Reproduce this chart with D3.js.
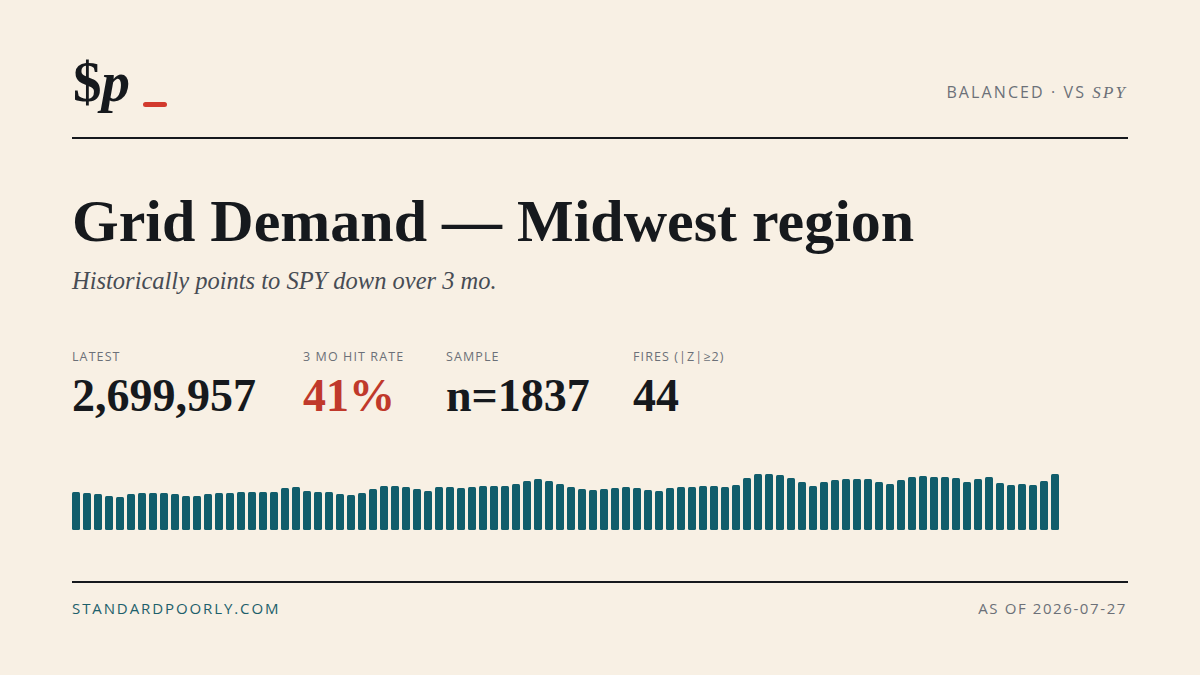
<!DOCTYPE html>
<html>
<head>
<meta charset="utf-8">
<script src="https://cdn.jsdelivr.net/npm/d3@7/dist/d3.min.js"></script>
<style>
  html, body { margin: 0; padding: 0; background: #f8f0e4; }
  svg { display: block; }
</style>
</head>
<body>
<div id="card"></div>
<script>
  'use strict';

  // weekly demand readings, oldest first (last bar = latest)
  var barValues = [
    1832000, 1784000, 1736000, 1639000, 1591000, 1736000, 1784000, 1784000, 1784000, 1736000,
    1639000, 1639000, 1736000, 1784000, 1784000, 1832000, 1832000, 1832000, 1832000, 2025000,
    2073000, 1880000, 1832000, 1832000, 1736000, 1687000, 1784000, 1977000, 2121000, 2121000,
    2073000, 1977000, 1880000, 2073000, 2073000, 2025000, 2073000, 2121000, 2121000, 2121000,
    2218000, 2362000, 2459000, 2362000, 2218000, 2073000, 1977000, 1929000, 1977000, 2025000,
    2073000, 2025000, 1929000, 1880000, 2025000, 2073000, 2073000, 2121000, 2121000, 2073000,
    2170000, 2507000, 2696000, 2696000, 2652000, 2507000, 2314000, 2121000, 2314000, 2411000,
    2459000, 2459000, 2459000, 2314000, 2218000, 2411000, 2555000, 2604000, 2555000, 2555000,
    2507000, 2314000, 2459000, 2555000, 2266000, 2170000, 2218000, 2170000, 2362000, 2699957
  ];

  var statLabels = ['LATEST', '3 MO HIT RATE', 'SAMPLE', 'FIRES (|Z|\u22652)'];
  var statValues = [d3.format(',')(barValues[barValues.length - 1]), '41%', 'n=1837', '44'];
  var statX = [72, 303, 446, 633];

  var title = 'Grid Demand \u2014 Midwest region';
  var subtitle = 'Historically points to SPY down over 3 mo.';
  var site = 'STANDARDPOORLY.COM';
  var asOf = 'AS OF 2026-07-27';

  var W = 1200, H = 675;
  var serif = "'Liberation Serif', 'DejaVu Serif', serif";
  var sans = "'Open Sans', 'Noto Sans', sans-serif";
  var ink = '#16191d', red = '#c0392b', teal = '#115d6b', grey = '#6c7078';

  var svg = d3.select('#card').append('svg')
      .attr('width', W)
      .attr('height', H);

  svg.append('rect')
      .attr('width', W)
      .attr('height', H)
      .attr('fill', '#f8f0e4');

  // logo
  var logo = svg.append('text')
      .attr('x', 73)
      .attr('y', 101)
      .style('font-family', serif)
      .style('font-weight', 'bold')
      .style('font-size', '57px')
      .attr('fill', ink);
  logo.append('tspan').text('$');
  logo.append('tspan').style('font-style', 'italic').text('p');

  svg.append('rect')
      .attr('x', 143)
      .attr('y', 102)
      .attr('width', 24)
      .attr('height', 5)
      .attr('rx', 2.5)
      .attr('fill', '#d23a2d');

  // header right
  var tag = svg.append('text')
      .attr('x', 1127)
      .attr('y', 98)
      .attr('text-anchor', 'end')
      .style('font-family', sans)
      .style('font-size', '16px')
      .style('letter-spacing', '2.1px')
      .attr('fill', grey);
  tag.append('tspan').text('BALANCED \u00b7 VS ');
  tag.append('tspan')
      .style('font-family', serif)
      .style('font-style', 'italic')
      .style('font-size', '17px')
      .text('SPY');

  // rules
  [137, 581].forEach(function(y) {
    svg.append('rect')
        .attr('x', 72)
        .attr('y', y)
        .attr('width', 1056)
        .attr('height', 2)
        .attr('fill', ink);
  });

  // title + subtitle
  svg.append('text')
      .attr('x', 72)
      .attr('y', 241)
      .style('font-family', serif)
      .style('font-weight', 'bold')
      .style('font-size', '60px')
      .attr('fill', ink)
      .text(title);

  svg.append('text')
      .attr('x', 72)
      .attr('y', 289)
      .style('font-family', serif)
      .style('font-style', 'italic')
      .style('font-size', '24.5px')
      .attr('fill', '#474c54')
      .text(subtitle);

  // stats row
  var stats = svg.append('g');
  stats.selectAll('text.label')
      .data(statLabels)
      .enter().append('text')
      .attr('class', 'label')
      .attr('x', function(d, i) { return statX[i]; })
      .attr('y', 361)
      .style('font-family', sans)
      .style('font-size', '12.5px')
      .style('letter-spacing', '1.1px')
      .attr('fill', grey)
      .text(function(d) { return d; });

  stats.selectAll('text.value')
      .data(statValues)
      .enter().append('text')
      .attr('class', 'value')
      .attr('x', function(d, i) { return statX[i]; })
      .attr('y', 411)
      .style('font-family', serif)
      .style('font-weight', 'bold')
      .style('font-size', '46px')
      .attr('fill', function(d, i) { return i === 1 ? red : ink; })
      .text(function(d) { return d; });

  // sparkbars
  var x = d3.scaleBand()
      .domain(d3.range(barValues.length))
      .range([72, 1059])
      .paddingInner(3 / 11)
      .paddingOuter(0);

  var y = d3.scaleLinear()
      .domain([0, d3.max(barValues)])
      .range([530, 474]);

  svg.append('g')
    .selectAll('rect')
      .data(barValues)
      .enter().append('rect')
      .attr('x', function(d, i) { return x(i); })
      .attr('y', function(d) { return y(d); })
      .attr('width', x.bandwidth())
      .attr('height', function(d) { return y(0) - y(d); })
      .attr('rx', 1.5)
      .attr('fill', teal);

  // footer
  svg.append('text')
      .attr('x', 72)
      .attr('y', 614)
      .style('font-family', sans)
      .style('font-size', '15px')
      .style('letter-spacing', '1.9px')
      .attr('fill', '#1d5f6b')
      .text(site);

  svg.append('text')
      .attr('x', 1127)
      .attr('y', 614)
      .attr('text-anchor', 'end')
      .style('font-family', sans)
      .style('font-size', '15px')
      .style('letter-spacing', '1.6px')
      .attr('fill', grey)
      .text(asOf);
</script>
</body>
</html>
